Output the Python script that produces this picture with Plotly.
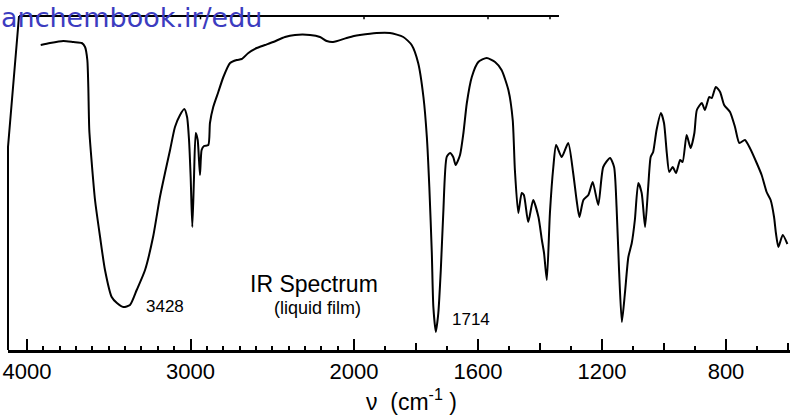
import plotly.graph_objects as go

# ---- data ----
wavenumber = [3916, 3859, 3778, 3717, 3665, 3645, 3631, 3625, 3619, 3604, 3584, 3553, 3523, 3482,
              3450, 3411, 3370, 3329, 3278, 3229, 3187, 3156, 3125, 3095, 3064, 3038, 3021, 3009,
              2999, 2989, 2979, 2968, 2956, 2942, 2932, 2917, 2891, 2881, 2861, 2830, 2799, 2758,
              2717, 2687, 2646, 2595, 2544, 2494, 2422, 2361, 2269, 2208, 2167, 2128, 2045, 2000,
              1981, 1927, 1884, 1841, 1814, 1793, 1776, 1765, 1757, 1749, 1744, 1736, 1728, 1720,
              1712, 1701, 1690, 1680, 1672, 1658, 1647, 1636, 1620, 1599, 1572, 1545, 1524, 1502,
              1488, 1481, 1470, 1459, 1452, 1438, 1422, 1405, 1394, 1387, 1378, 1368, 1357, 1348,
              1330, 1309, 1293, 1282, 1273, 1260, 1244, 1230, 1212, 1196, 1174, 1161, 1153, 1145,
              1136, 1126, 1115, 1104, 1094, 1083, 1072, 1061, 1051, 1043, 1035, 1024, 1010, 1000,
              991, 983, 972, 961, 948, 940, 927, 914, 902, 894, 878, 868, 854, 846, 833, 819, 806,
              787, 771, 757, 739, 723, 701, 685, 669, 656, 645, 639, 631, 617, 602]
transmittance = [305, 307, 309, 308, 307, 303, 290, 263, 220, 187, 150, 113, 80, 53,
                 47, 43, 45, 60, 80, 113, 153, 177, 200, 223, 235, 241, 233, 210,
                 173, 123, 170, 217, 210, 175, 200, 204, 205, 227, 243, 258, 273, 287,
                 290, 291, 297, 302, 305, 308, 313, 315, 315, 313, 309, 308, 312, 314,
                 315, 317, 317, 313, 305, 287, 253, 213, 163, 97, 43, 18, 37, 80,
                 137, 193, 197, 193, 185, 195, 217, 247, 273, 288, 292, 288, 280, 260,
                 230, 180, 137, 157, 155, 128, 150, 133, 110, 97, 70, 137, 183, 205,
                 193, 207, 177, 150, 133, 150, 155, 168, 145, 183, 192, 183, 143, 80,
                 28, 57, 93, 107, 130, 167, 157, 123, 163, 193, 198, 220, 237, 227,
                 197, 178, 183, 177, 190, 188, 215, 202, 217, 240, 247, 240, 253, 252, 263, 258, 245,
                 238, 223, 207, 210, 202, 187, 175, 158, 150, 133, 117, 103, 115, 106]

major_ticks = [4000, 3000, 2000, 1600, 1200, 800]
major_labels = ["4000", "3000", "2000", "1600", "1200", "800"]
medium_ticks = [1800, 1400, 1000, 600]
minor_ticks = [w for w in range(3900, 600, -100) if w not in major_ticks and w not in medium_ticks]

annot_peaks = [3428, 1714]


# IR chart x scale: 2000 cm-1 break, doubled scale below 2000
def axis_pos(w):
    if w >= 2000:
        return (4000 - w) * 0.1635
    return 327 + (2000 - w) * 0.31


xs = [axis_pos(w) for w in wavenumber]

fig = go.Figure()
fig.add_trace(go.Scatter(x=xs, y=transmittance, mode="lines",
                         line=dict(color="black", width=2, shape="spline", smoothing=0.6),
                         hoverinfo="skip", showlegend=False))
fig.add_trace(go.Scatter(x=[axis_pos(w) for w in medium_ticks], y=[None] * len(medium_ticks),
                         xaxis="x2", mode="lines", showlegend=False, hoverinfo="skip"))

font = "Liberation Sans, Arial, Helvetica, sans-serif"
xr = [-19, 763]

fig.update_layout(
    width=798, height=415,
    margin=dict(l=8, r=8, t=16, b=65, autoexpand=False),
    paper_bgcolor="white", plot_bgcolor="white",
    showlegend=False,
    xaxis=dict(range=xr, automargin=False, showgrid=False, zeroline=False, showline=True,
               linecolor="black", linewidth=2.5, ticks="inside", ticklen=11, tickwidth=2,
               tickcolor="black", tickmode="array", tickvals=[axis_pos(w) for w in major_ticks],
               ticktext=major_labels, tickfont=dict(family=font, size=22, color="black"),
               ticklabelstandoff=0,
               minor=dict(tickmode="array", tickvals=[axis_pos(w) for w in minor_ticks],
                          ticks="inside", ticklen=4, tickwidth=2, tickcolor="black")),
    xaxis2=dict(range=xr, overlaying="x", anchor="y", side="bottom", automargin=False,
                showgrid=False, zeroline=False, showline=False, ticks="inside", ticklen=7,
                tickwidth=2, tickcolor="black", tickmode="array",
                tickvals=[axis_pos(w) for w in medium_ticks], showticklabels=False),
    yaxis=dict(range=[0, 334], visible=False, automargin=False),
)

# frame: slanted left edge and partial top edge (scanned chart)
fig.add_shape(type="path", xref="paper", yref="paper",
              path="M 0.0141 1 L 0 0.608 L 0 0", line=dict(color="black", width=2))
fig.add_shape(type="line", xref="paper", yref="paper", x0=0.0141, x1=0.7046, y0=1, y1=1,
              line=dict(color="black", width=2))
for w in [4000, 3000, 2000, 1600, 1400]:
    fig.add_shape(type="line", xref="x", yref="paper", x0=axis_pos(w) + 10, x1=axis_pos(w) + 10,
                  y0=1, y1=0.99, line=dict(color="black", width=1.5))

fig.add_annotation(x=axis_pos(annot_peaks[0]), y=44, xref="x", yref="y", text=str(annot_peaks[0]),
                   xanchor="left", yanchor="middle", xshift=23, showarrow=False,
                   font=dict(family=font, size=17, color="black"))
fig.add_annotation(x=axis_pos(annot_peaks[1]), y=31, xref="x", yref="y", text=str(annot_peaks[1]),
                   xanchor="left", yanchor="middle", xshift=7, showarrow=False,
                   font=dict(family=font, size=17, color="black"))
fig.add_annotation(x=0.391, y=0.199, xref="paper", yref="paper", text="IR Spectrum",
                   showarrow=False, xanchor="center", yanchor="middle",
                   font=dict(family=font, size=23, color="black"))
fig.add_annotation(x=0.396, y=0.127, xref="paper", yref="paper", text="(liquid film)",
                   showarrow=False, xanchor="center", yanchor="middle",
                   font=dict(family=font, size=18, color="black"))
fig.add_annotation(x=0.5166, y=-0.15, xref="paper", yref="paper",
                   text="ν  (cm<sup>-1</sup> )", showarrow=False, xanchor="center",
                   yanchor="middle", font=dict(family=font, size=23, color="black"))
fig.add_annotation(x=0, y=1.048, xref="paper", yref="paper", text="anchembook.ir/edu",
                   showarrow=False, xanchor="left", yanchor="top", xshift=-9,
                   font=dict(family="DejaVu Sans, Verdana, sans-serif", size=27, color="#3c3cc0"))

fig.write_html("out.html", config={"displayModeBar": False},
               post_script="document.body.style.margin='0';")
